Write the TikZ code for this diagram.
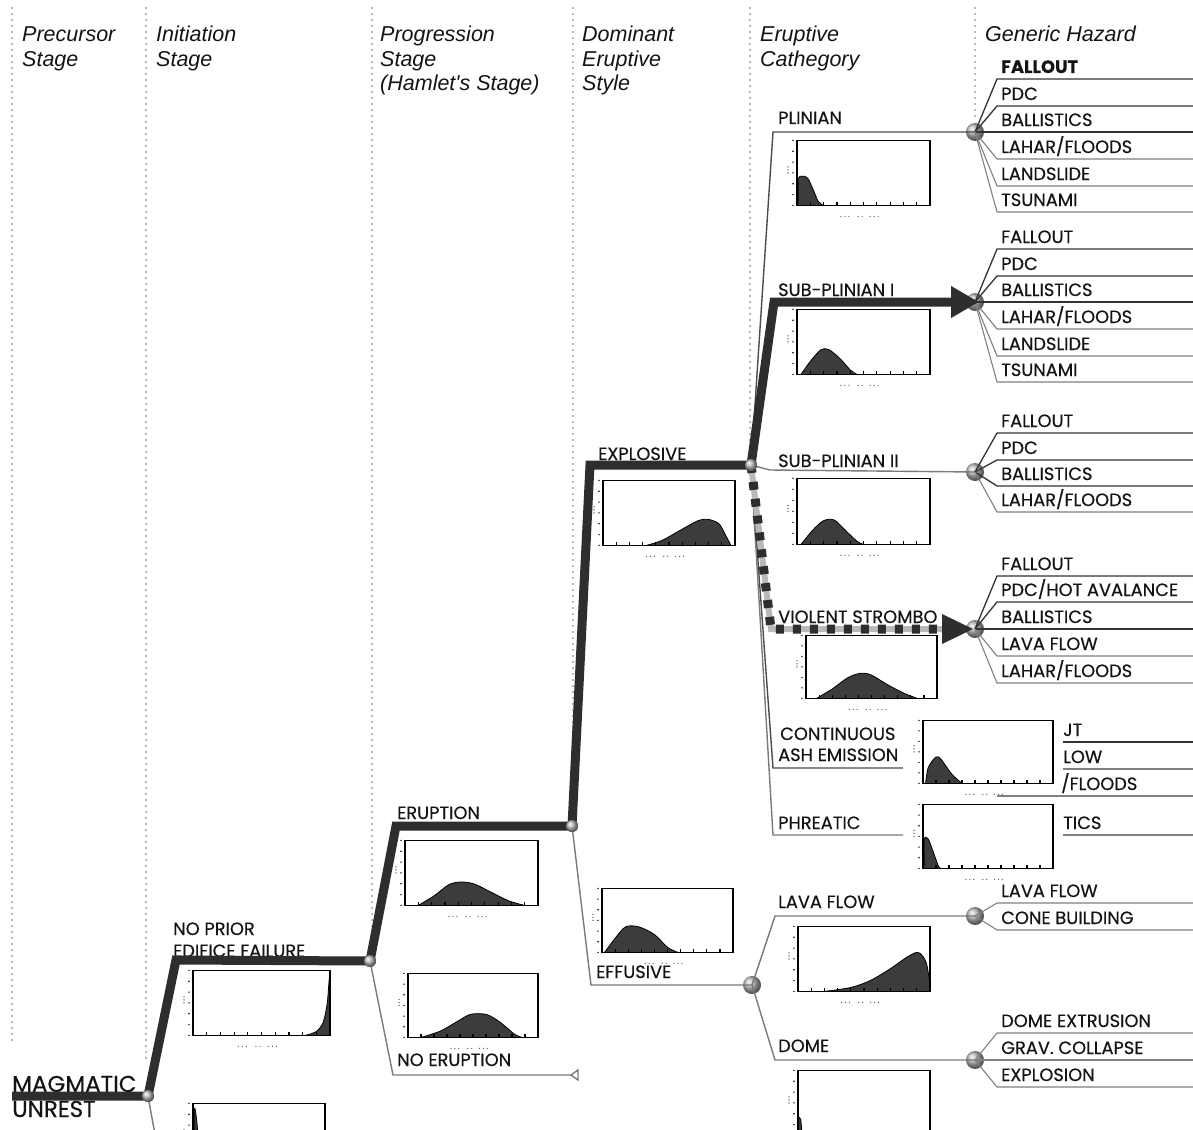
\documentclass[tikz,border=0pt]{standalone}
\usepackage{fontspec}
\newfontfamily\labfont[FakeBold=0.4]{Poppins}
\newfontfamily\headfont{Liberation Sans}
\usetikzlibrary{arrows.meta}

\definecolor{pathcol}{HTML}{2E2E2E}
\definecolor{branchcol}{HTML}{7A7A7A}
\definecolor{plotfill}{HTML}{3C3C3C}
\definecolor{inkcol}{HTML}{141414}

% small distribution chart: name, left, top, width, height, curve (u,v in 0..1)
\newcommand\distplot[6]{%
  \node[inner sep=0pt, minimum width=#4pt, minimum height=#5pt, anchor=north west, fill=white] (#1) at (#2,#3) {};
  \begin{scope}[shift={(#1.south west)}, x={(#4pt,0pt)}, y={(0pt,#5pt)}]
    \begin{scope}
      \clip (0,0) rectangle (1,1);
      \fill[plotfill, draw=black, line width=0.8pt] plot[smooth, tension=0.5] coordinates {#6} -- cycle;
    \end{scope}
    \draw[black, line width=1.5pt] (0,0) rectangle (1,1);
    \draw[black, line width=2.4pt] (0,0) -- (0,1);
    \foreach \k in {0,...,10} \draw[black, line width=1.2pt] (\k/10,0) -- ++(0pt,3pt);
    \foreach \k in {0,...,6} \fill[black] (0,\k/6) ++(-4pt,0pt) circle (0.8pt);
    \foreach \k in {0,1,2} \fill[black!70] (0,0.5) ++(-9pt,\k*3pt) circle (0.7pt);
    \foreach \k in {0.33,0.36,0.39,0.46,0.49,0.55,0.58,0.61} \fill[black!60] (\k,0) ++(0pt,-11pt) circle (0.7pt);
  \end{scope}}

% one hazard line leaving a sphere: sphere, name, line y, text, style
\newcommand\hazard[5]{%
  \draw[#5] (#1.center) -- (997,#3) -- (1200,#3);
  \node[lab] (#2) at (1001,#3-6) {#4};}

\begin{document}
\begin{tikzpicture}[x=1pt, y=-1pt,
  stage/.style={draw=black!55, line width=1.8pt, line cap=round, dash pattern=on 0pt off 6pt},
  mainpath/.style={draw=pathcol, line width=9pt, line join=miter},
  branch/.style={draw=branchcol, line width=1.4pt},
  hzdark/.style={draw=black!80, line width=1.3pt},
  hzlight/.style={draw=black!50, line width=1.1pt},
  hzsphere/.style={circle, shading=ball, ball color=gray!55, minimum size=18pt, inner sep=0pt},
  knot/.style={circle, shading=ball, ball color=gray!50, minimum size=12pt, inner sep=0pt},
  lab/.style={font=\labfont\fontsize{17.8}{20}\selectfont, text=inkcol, anchor=base west, inner sep=0pt},
  biglab/.style={font=\labfont\fontsize{23}{25}\selectfont, text=inkcol, anchor=base west, inner sep=0pt},
  head/.style={font=\headfont\itshape\fontsize{21.5}{25}\selectfont, text=inkcol, anchor=base west, inner sep=0pt}]

\useasboundingbox (0,0) rectangle (1193,1129);
\fill[white] (0,0) rectangle (1193,1129);
\clip (0,0) rectangle (1193,1129);

% stage separators
\draw[stage] (12,8) -- (12,1040);
\draw[stage] (146,8) -- (146,1062);
\draw[stage] (372,8) -- (372,940);
\draw[stage] (573,8) -- (573,815);
\draw[stage] (750,8) -- (750,452);
\draw[stage] (975,8) -- (975,118);

% column headings
\node[head] (hPa) at (22,42) {Precursor};
\node[head] (hPb) at (22,67) {Stage};
\node[head] (hIa) at (156,42) {Initiation};
\node[head] (hIb) at (156,67) {Stage};
\node[head] (hGa) at (380,42) {Progression};
\node[head] (hGb) at (380,67) {Stage};
\node[head] (hGc) at (380,91) {(Hamlet's Stage)};
\node[head] (hDa) at (582,42) {Dominant};
\node[head] (hDb) at (582,67) {Eruptive};
\node[head] (hDc) at (582,91) {Style};
\node[head] (hEa) at (760,42) {Eruptive};
\node[head] (hEb) at (760,67) {Cathegory};
\node[head] (hH) at (985,42) {Generic Hazard};

% branch points
\coordinate (mStart) at (12,1096);
\node[knot] (nMag) at (148,1096) {};
\coordinate (cNP) at (176,960);
\node[knot] (nNP) at (370,961) {};
\coordinate (cEr) at (396,826);
\node[knot] (nEr) at (572,826) {};
\coordinate (cEx) at (590,465);
\node[knot] (nExp) at (751,465) {};
\coordinate (cSP1) at (774,302);
\coordinate (tipSP1) at (979,302);
\coordinate (cPl) at (773,132);
\node[hzsphere] (sPl) at (975,132) {};
\node[hzsphere] (sSP1) at (975,302) {};
\coordinate (cSP2) at (770,470);
\node[hzsphere] (sSP2) at (975,472) {};
\coordinate (cVS) at (771,629);
\coordinate (tipVS) at (942,629);
\node[hzsphere] (sVS) at (975,629) {};
\coordinate (cCA) at (773,768);
\coordinate (eCA) at (903,768);
\coordinate (cPh) at (773,835);
\coordinate (ePh) at (903,835);
\coordinate (cEff) at (591,985);
\node[hzsphere] (nEff) at (752,985) {};
\coordinate (cLF) at (775,916);
\node[hzsphere] (sLF) at (975,916) {};
\coordinate (cDo) at (775,1060);
\node[hzsphere] (sDo) at (975,1060) {};
\coordinate (cNE) at (393,1075);
\coordinate (tNE) at (571,1075);
\coordinate (cLow) at (156,1140);

% thin branches
\draw[branch] (nMag.center) -- (cLow);
\draw[branch] (nNP.center) -- (cNE) -- (tNE);
\draw[branch, fill=white] (tNE) -- ++(7,-5) -- ++(0,10) -- cycle;
\draw[branch] (nEr.center) -- (cEff) -- (nEff.center);
\draw[branch] (nEff.center) -- (cLF) -- (sLF.center);
\draw[branch] (nEff.center) -- (cDo) -- (sDo.center);
\draw[branch, draw=black!70] (nExp.center) -- (cPl) -- (sPl.center);
\draw[branch] (nExp.center) -- (cSP2) -- (sSP2.center);
\draw[branch, draw=black!70] (nExp.center) -- (cCA) -- (eCA);
\draw[branch] (nExp.center) -- (cPh) -- (ePh);

% hazards
\hazard{sPl}{zPa}{79}{\bfseries FALLOUT}{hzdark}
\hazard{sPl}{zPb}{106}{PDC}{hzdark}
\hazard{sPl}{zPc}{132}{BALLISTICS}{hzdark}
\hazard{sPl}{zPd}{159}{LAHAR/FLOODS}{hzlight}
\hazard{sPl}{zPe}{186}{LANDSLIDE}{hzlight}
\hazard{sPl}{zPf}{212}{TSUNAMI}{hzlight}

\hazard{sSP1}{zAa}{249}{FALLOUT}{hzdark}
\hazard{sSP1}{zAb}{276}{PDC}{hzdark}
\hazard{sSP1}{zAc}{302}{BALLISTICS}{hzdark}
\hazard{sSP1}{zAd}{329}{LAHAR/FLOODS}{hzlight}
\hazard{sSP1}{zAe}{356}{LANDSLIDE}{hzlight}
\hazard{sSP1}{zAf}{382}{TSUNAMI}{hzlight}

\hazard{sSP2}{zBa}{433}{FALLOUT}{hzdark}
\hazard{sSP2}{zBb}{460}{PDC}{hzdark}
\hazard{sSP2}{zBc}{486}{BALLISTICS}{hzdark}
\hazard{sSP2}{zBd}{512}{LAHAR/FLOODS}{hzlight}

\hazard{sVS}{zVa}{576}{FALLOUT}{hzdark}
\hazard{sVS}{zVb}{602}{PDC/HOT AVALANCE}{hzdark}
\hazard{sVS}{zVc}{629}{BALLISTICS}{hzdark}
\hazard{sVS}{zVd}{656}{LAVA FLOW}{hzlight}
\hazard{sVS}{zVe}{683}{LAHAR/FLOODS}{hzlight}

\hazard{sLF}{zLa}{903}{LAVA FLOW}{hzlight}
\hazard{sLF}{zLb}{930}{CONE BUILDING}{hzlight}

\hazard{sDo}{zDa}{1033}{DOME EXTRUSION}{hzlight}
\hazard{sDo}{zDb}{1060}{GRAV. COLLAPSE}{hzlight}
\hazard{sDo}{zDc}{1087}{EXPLOSION}{hzlight}

% hazards partly hidden behind the ash-emission and phreatic charts
\coordinate (qa) at (1063,742);
\coordinate (qb) at (1063,769);
\coordinate (qc) at (997,796);
\coordinate (qd) at (1063,835);
\draw[hzdark] (qa) -- (1200,742);
\draw[hzlight] (qb) -- (1200,769);
\draw[hzlight] (qc) -- (1200,796);
\draw[hzlight] (qd) -- (1200,835);
\node[lab] (zCa) at (1063,736) {JT};
\node[lab] (zCb) at (1063,763) {LOW};
\node[lab] (zCc) at (1061,790) {/FLOODS};
\node[lab] (zCd) at (1063,829) {TICS};

% distribution charts
\distplot{gPl}{797}{140}{133}{65}{(0.01,0) (0.01,0.4) (0.04,0.45) (0.08,0.42) (0.12,0.25) (0.16,0.06) (0.2,0)}
\distplot{gSA}{797}{309}{133}{65}{(0.03,0) (0.1,0.2) (0.18,0.38) (0.24,0.38) (0.32,0.25) (0.4,0.07) (0.45,0)}
\distplot{gSB}{797}{478}{133}{66}{(0.03,0) (0.12,0.22) (0.2,0.36) (0.28,0.37) (0.36,0.22) (0.45,0.05) (0.5,0)}
\distplot{gVS}{806}{635}{131}{63}{(0.08,0) (0.2,0.15) (0.32,0.33) (0.42,0.4) (0.5,0.37) (0.62,0.22) (0.75,0.08) (0.85,0)}
\distplot{gCA}{923}{720}{130}{63}{(0.02,0) (0.04,0.25) (0.1,0.42) (0.14,0.38) (0.22,0.15) (0.3,0)}
\distplot{gPh}{923}{804}{130}{64}{(0.01,0) (0.01,0.45) (0.04,0.46) (0.08,0.25) (0.12,0.03) (0.14,0)}
\distplot{gLF}{798}{926}{132}{65}{(0.2,0) (0.4,0.06) (0.55,0.17) (0.7,0.35) (0.82,0.52) (0.91,0.6) (0.97,0.45) (1,0.1) (1,0)}
\distplot{gDo}{798}{1070}{132}{65}{(0,0) (0,0.25) (0.02,0.25) (0.03,0)}
\distplot{gEx}{603}{480}{132}{65}{(0.33,0) (0.45,0.08) (0.6,0.25) (0.72,0.38) (0.8,0.4) (0.88,0.33) (0.93,0.15) (0.97,0)}
\distplot{gEf}{602}{888}{131}{64}{(0.02,0) (0.1,0.22) (0.18,0.4) (0.28,0.4) (0.4,0.28) (0.5,0.08) (0.58,0)}
\distplot{gEr}{405}{840}{133}{65}{(0.1,0) (0.22,0.15) (0.33,0.32) (0.42,0.36) (0.52,0.33) (0.65,0.2) (0.78,0.07) (0.9,0)}
\distplot{gNE}{408}{973}{130}{64}{(0.1,0) (0.25,0.1) (0.38,0.25) (0.48,0.36) (0.6,0.36) (0.7,0.25) (0.82,0.05) (0.88,0)}
\distplot{gNP}{193}{970}{137}{65}{(0.82,0) (0.9,0.06) (0.95,0.2) (0.98,0.5) (1,0.95) (1,0)}
\distplot{gLo}{193}{1103}{132}{65}{(0.01,0) (0.01,0.9) (0.03,0.7) (0.05,0.1) (0.06,0)}

% branch labels
\node[lab] (tPl) at (778,124) {PLINIAN};
\node[lab] (tSA) at (778,296) {SUB-PLINIAN I};
\node[lab] (tSB) at (778,467) {SUB-PLINIAN II};
\node[lab] (tVS) at (778,623) {VIOLENT STROMBO};
\node[lab] (tCAa) at (780,740) {CONTINUOUS};
\node[lab] (tCAb) at (778,761) {ASH EMISSION};
\node[lab] (tPh) at (778,829) {PHREATIC};
\node[lab] (tLF) at (778,908) {LAVA FLOW};
\node[lab] (tDo) at (778,1052) {DOME};
\node[lab] (tEx) at (598,460) {EXPLOSIVE};
\node[lab] (tEf) at (596,978) {EFFUSIVE};
\node[lab] (tEr) at (397,819) {ERUPTION};
\node[lab] (tNE) at (397,1066) {NO ERUPTION};
\node[lab] (tNPa) at (173,935) {NO PRIOR};
\node[lab] (tNPb) at (173,957) {EDIFICE FAILURE};
\node[biglab] (tMa) at (12,1092) {MAGMATIC};
\node[biglab] (tMb) at (12,1117) {UNREST};

% most likely path
\draw[mainpath, -{Triangle[length=28pt,width=30pt]}]
  (mStart) -- (nMag.center) -- (cNP) -- (nNP.center) -- (cEr) -- (nEr.center)
  -- (cEx) -- (nExp.center) -- (cSP1) -- (tipSP1);

% second path, dashed
\draw[draw=gray!55, line width=6pt, line join=miter] (nExp.center) -- (cVS) -- (tipVS);
\draw[draw=pathcol, line width=9pt, dash pattern=on 8pt off 9pt] (nExp.center) -- (cVS) -- (tipVS);
\fill[pathcol] (tipVS) -- ++(0,-15) -- ++(31,15) -- ++(-31,15) -- cycle;

\node[knot] at (nMag) {};
\node[knot] at (nNP) {};
\node[knot] at (nEr) {};
\node[knot] at (nExp) {};
\end{tikzpicture}
\end{document}
